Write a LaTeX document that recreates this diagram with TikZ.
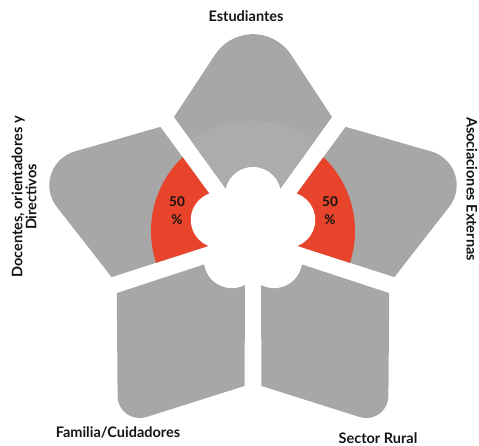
\documentclass[tikz,border=0pt]{standalone}
\usepackage{fontspec}
\setmainfont{Lato}
\usetikzlibrary{positioning}

\definecolor{petalgrey}{HTML}{A7A7A7}
\definecolor{innergrey}{HTML}{ADACAB}
\definecolor{halfred}{HTML}{E8442B}
\definecolor{labelblack}{HTML}{141414}

% petal with its axis turned by #1, sharp tip at #2, rounded over #3; #4 is the path command
\newcommand{\petal}[4]{%
  \pgfmathsetmacro{\pEl}{veclen(79,#2-123)}%
  \pgfmathsetmacro{\pUx}{79/\pEl}%
  \pgfmathsetmacro{\pUy}{(#2-123)/\pEl}%
  \pgfmathsetmacro{\pR}{#3*\pUx/\pUy}%
  \pgfmathsetmacro{\pA}{atan2(\pUx,\pUy)}%
  #4 [shift={(O)}, rotate=#1] (0,13.6) -- (79,123) -- ({#3*\pUx},{#2-#3*\pUy})
     arc[start angle=\pA, end angle={180-\pA}, radius=\pR] -- (-79,123) -- cycle;%
}

\begin{document}
\begin{tikzpicture}[x=1pt,y=1pt]
	\tikzstyle{Petal}	= [fill=petalgrey]
	\tikzstyle{Half}	= [fill=halfred]
	\tikzstyle{Inner}	= [fill=innergrey]
	\tikzstyle{Hub}		= [fill=white]
	\tikzstyle{Label}	= [font=\bfseries\fontsize{14.5}{14}\selectfont, text=labelblack, inner sep=0pt, align=center]
	\tikzstyle{Pct}		= [font=\bfseries\fontsize{13.5}{18}\selectfont, text=labelblack, inner sep=0pt, align=center]

	\useasboundingbox (0,0) rectangle (479,446);
	\coordinate (O) at (253,206);
	\coordinate (H) at (253,215);

	% petals
	\petal{0}{243}{69}{\fill[Petal]}
	\petal{72}{240}{52}{\fill[Petal]}
	\petal{-72}{240}{52}{\fill[Petal]}
	\petal{144}{230}{30}{\fill[Petal]}
	\petal{-144}{230}{30}{\fill[Petal]}

	% inner bands
	\begin{scope}
		\petal{0}{243}{69}{\clip}
		\fill[Inner] (H) circle[radius=110];
	\end{scope}
	\begin{scope}
		\petal{72}{240}{52}{\clip}
		\fill[Half] (H) circle[radius=102];
	\end{scope}
	\begin{scope}
		\petal{-72}{240}{52}{\clip}
		\fill[Half] (H) circle[radius=102];
	\end{scope}

	% hub
	\fill[Hub] (H) circle[radius=40];
	\fill[Hub] (H) ++(90:36) circle[radius=28];
	\fill[Hub] (H) ++(162:36) circle[radius=28];
	\fill[Hub] (H) ++(18:36) circle[radius=28];
	\fill[Hub] (H) ++(234:36) circle[radius=28];
	\fill[Hub] (H) ++(306:36) circle[radius=28];

	\node (pctleft) at (177,235) [Pct] {50\\\%};
	\node (pctright) at (330,235) [Pct] {50\\\%};

	\node (estudiantes) at (246,430) [Label] {Estudiantes};
	\node (docentes) at (24,249) [Label, rotate=90] {Docentes, orientadores y\\Directivos};
	\node (asociaciones) at (472,257) [Label, rotate=-90] {Asociaciones Externas};
	\node (familia) at (118,14) [Label] {Familia/Cuidadores};
	\node (rural) at (378,8) [Label] {Sector Rural};
\end{tikzpicture}
\end{document}
